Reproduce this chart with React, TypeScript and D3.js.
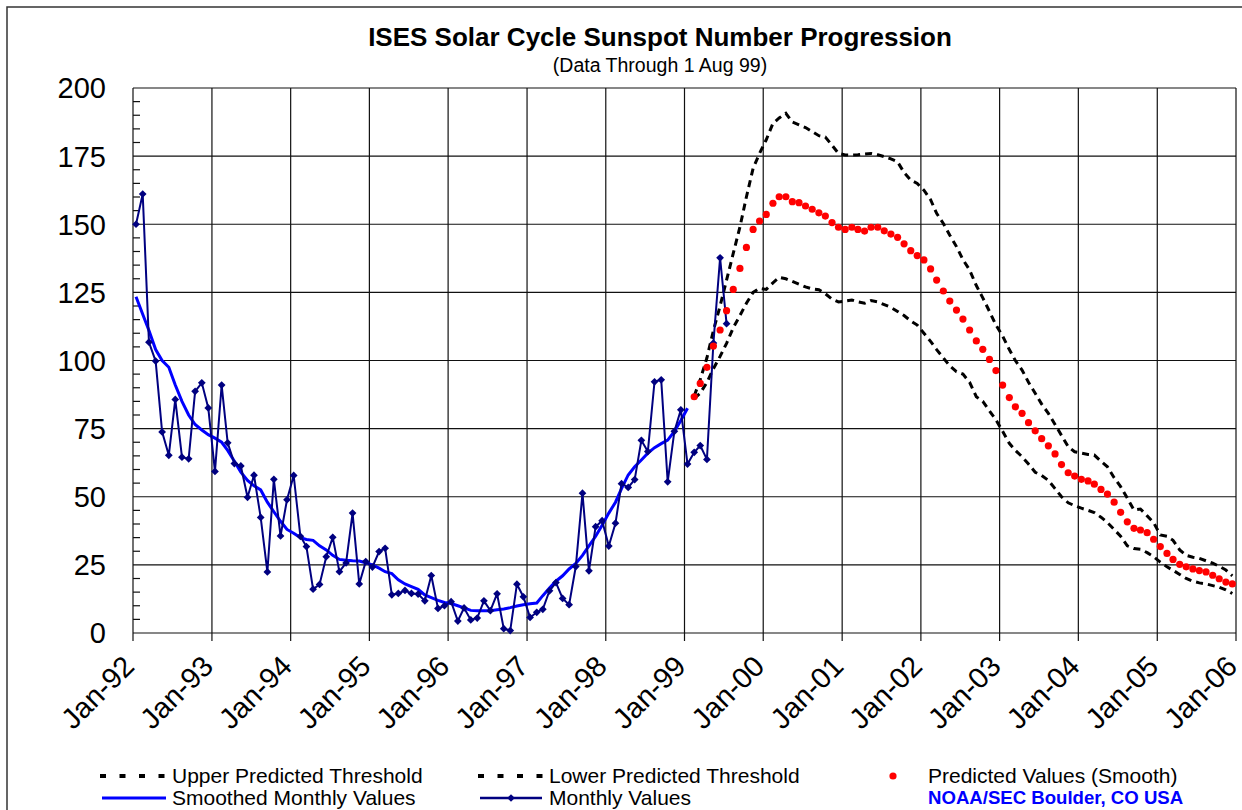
import React from "react";
import * as d3 from "d3";

// monthly sunspot numbers, Jan 1992 .. Jul 1999
const monthlyValues = [
  150.0, 161.1, 106.7, 99.8, 73.8, 65.2, 85.7, 64.5, 63.9, 88.7, 91.8, 82.6,
  59.3, 91.0, 69.8, 62.2, 61.3, 49.8, 57.9, 42.4, 22.4, 56.4, 35.6, 48.9,
  57.8, 35.5, 31.7, 16.1, 17.8, 28.0, 35.1, 22.5, 25.7, 44.0, 18.0, 26.2,
  24.2, 29.9, 31.1, 14.0, 14.5, 15.6, 14.5, 14.3, 11.8, 21.1, 9.0, 10.0,
  11.5, 4.4, 9.2, 4.8, 5.5, 11.8, 8.2, 14.4, 1.6, 0.9, 17.9, 13.3,
  5.7, 7.6, 8.7, 15.5, 18.5, 12.7, 10.4, 24.4, 51.3, 22.8, 39.0, 41.2,
  31.9, 40.3, 54.8, 53.4, 56.3, 70.7, 66.6, 92.2, 92.9, 55.5, 74.0, 81.9,
  62.0, 66.3, 68.8, 63.7, 106.4, 137.7, 113.5,
];

// smoothed monthly values, Jan 1992 .. Jan 1999
const smoothedValues = [
  123.4, 117, 111, 104, 100, 97.5, 91, 85, 80, 76.5, 74.5, 72.8,
  71.5, 70, 67, 63, 59, 56, 54, 52.5, 48, 44.5, 41, 38,
  36.6, 35, 34.3, 34, 32, 30.5, 28.5, 27, 26.7, 26.5, 26.4, 25.8,
  25, 23.8, 22.5, 21.8, 19.5, 18, 17, 16, 14, 13, 12, 11.2,
  10.8, 10, 9.2, 8.3, 8.2, 8.2, 8.2, 8.5, 8.8, 9.3, 9.9, 10.4,
  10.7, 11, 13.7, 16.5, 19, 21, 23.5, 25.5, 28.5, 32, 35.5, 39.5,
  44, 48, 53, 58, 61, 63.5, 66, 68, 69.5, 70.8, 74, 78,
  82.5,
];

// predictions, Feb 1999 .. Dec 2005
const predictedValues = [
  86.7, 91.6, 97.5, 105.3, 111.2, 118.3, 126.1, 133.8, 141.5, 148.1, 151.2,
  153.6, 157.7, 160.1, 160.1, 158.3, 157.9, 156.7, 155.5, 154.2, 153, 150.6, 148.9,
  148.1, 148.9, 148.1, 147.5, 148.9, 148.9, 147.6, 146.4, 145.2, 142.8, 140.3, 138.5,
  136.9, 133.6, 129.5, 125.5, 121.8, 118.5, 115.2, 111.2, 107.2, 104.1, 100.4, 96.3,
  91, 86.4, 83, 80.6, 77.2, 74.2, 71.3, 68.7, 65.7, 61.8, 58.8, 57.6,
  56.4, 55.8, 54.6, 52.7, 51, 48, 44.3, 40.8, 38.4, 37.8, 36.8, 34.4,
  31.7, 29.2, 27, 25.2, 24.3, 23.5, 22.9, 22.4, 21.2, 19.9, 18.7, 18,
];

const upperThreshold = [
  87, 93, 101, 111, 120, 129.5, 139.3, 149, 160, 170.5, 176,
  181, 187, 189, 190.7, 187.5, 186.5, 185.5, 184, 182.5, 182, 179, 176,
  175.4, 175.4, 175.5, 175.8, 176, 175.5, 174.8, 174, 172.9, 169, 166.2, 165,
  162.5, 159, 154, 150.3, 146, 141.8, 137, 133.2, 127.5, 123, 118, 113,
  109, 104, 100, 96.5, 92, 88, 84, 80.6, 76.5, 72.5, 68.4, 66.5,
  66, 65.5, 65.3, 63, 61, 57, 53.7, 49.5, 45.1, 45.5, 43, 40.5,
  36, 35.5, 34, 30.5, 28.5, 27.8, 27.4, 26.5, 25.6, 24.5, 23.1, 21,
];

const lowerThreshold = [
  86, 88, 92, 97, 101.5, 106.3, 112, 116.5, 121, 125, 126.5,
  126.1, 128.5, 130.5, 130, 129, 128, 127, 126.3, 126, 124.5, 122.5, 121.5,
  121.8, 122.2, 121.5, 121, 122, 121.5, 120.5, 119.5, 118, 116.5, 114.5, 113,
  110, 107, 104, 101, 98, 95.9, 95, 92, 86.7, 85, 81.5, 78.2,
  74, 69.6, 67, 64.7, 62, 59, 57.8, 56, 53, 50, 47.8, 46.7,
  45.8, 45, 44.2, 42.5, 40.5, 38, 35.5, 32, 31, 30.7, 29.5, 28,
  26, 24.3, 23, 21.5, 20, 19, 18.4, 18, 17.4, 16.8, 15.8, 14.5,
];

const yTicks = [0, 25, 50, 75, 100, 125, 150, 175, 200];
const yearLabels = [
  "Jan-92", "Jan-93", "Jan-94", "Jan-95", "Jan-96", "Jan-97", "Jan-98", "Jan-99",
  "Jan-00", "Jan-01", "Jan-02", "Jan-03", "Jan-04", "Jan-05", "Jan-06",
];

const W = 1242;
const H = 810;
const plot = { left: 133, right: 1236, top: 88, bottom: 633 };
const font = "Arial, 'Liberation Sans', sans-serif";

// values sit mid-month
const monthDate = (i: number) => new Date(1992, i, 15);

export default function App() {
  const x = d3
    .scaleTime()
    .domain([new Date(1992, 0, 1), new Date(2006, 0, 1)])
    .range([plot.left, plot.right]);
  const y = d3.scaleLinear().domain([0, 200]).range([plot.bottom, plot.top]);

  const years = yearLabels.map((_, i) => new Date(1992 + i, 0, 1));
  const minorTicks = d3.range(0, 201, 5).filter((v) => v % 25 !== 0);

  const line = (vals: number[], start: number) =>
    d3
      .line<number>()
      .x((_, i) => x(monthDate(start + i)))
      .y((d) => y(d))(vals) || "";

  const predStart = 85;
  const diamond = d3.symbol(d3.symbolSquare, 30)() || "";

  return (
    <svg
      width={W}
      height={H}
      style={{ position: "absolute", left: 0, top: 0, background: "#fff" }}
      fontFamily={font}
    >
      <rect x={7} y={7} width={1300} height={900} fill="#fff" stroke="#333" strokeWidth={1.5} />

      <text x={660} y={46} textAnchor="middle" fontSize={26} fontWeight="bold">
        ISES Solar Cycle Sunspot Number Progression
      </text>
      <text x={660} y={72} textAnchor="middle" fontSize={19.5}>
        (Data Through 1 Aug 99)
      </text>

      {/* grid */}
      <g stroke="#111" strokeWidth={1.2}>
        {yTicks.map((t) => (
          <line key={"h" + t} x1={plot.left} x2={plot.right} y1={y(t)} y2={y(t)} />
        ))}
        {years.map((d, i) => (
          <line key={"v" + i} x1={x(d)} x2={x(d)} y1={plot.top} y2={plot.bottom + 8} />
        ))}
        {minorTicks.map((t) => (
          <line key={"m" + t} x1={plot.left} x2={plot.left + 7} y1={y(t)} y2={y(t)} />
        ))}
      </g>

      {/* y labels */}
      {yTicks.map((t) => (
        <text key={"yl" + t} x={106} y={y(t)} dy="0.36em" textAnchor="end" fontSize={29}>
          {t}
        </text>
      ))}

      {/* x labels */}
      {years.map((d, i) => (
        <text
          key={"xl" + i}
          transform={`translate(${x(d) + 3},${668}) rotate(-45)`}
          textAnchor="end"
          fontSize={29}
        >
          {yearLabels[i]}
        </text>
      ))}

      {/* thresholds */}
      <path d={line(upperThreshold, predStart)} fill="none" stroke="#000" strokeWidth={3} strokeDasharray="7 5" />
      <path d={line(lowerThreshold, predStart)} fill="none" stroke="#000" strokeWidth={3} strokeDasharray="7 5" />

      {/* smoothed */}
      <path d={line(smoothedValues, 0)} fill="none" stroke="#0000ff" strokeWidth={3} />

      {/* monthly */}
      <path d={line(monthlyValues, 0)} fill="none" stroke="#000080" strokeWidth={2} />
      {monthlyValues.map((v, i) => (
        <path
          key={"mv" + i}
          d={diamond}
          fill="#000080"
          transform={`translate(${x(monthDate(i))},${y(v)}) rotate(45)`}
        />
      ))}

      {/* predicted */}
      {predictedValues.map((v, i) => (
        <circle key={"p" + i} cx={x(monthDate(predStart + i))} cy={y(v)} r={3.6} fill="#ff0000" />
      ))}

      {/* legend */}
      <g fontSize={21}>
        <line x1={100} x2={166} y1={776} y2={776} stroke="#000" strokeWidth={4} strokeDasharray="6 13.5" />
        <text x={172} y={783}>Upper Predicted Threshold</text>
        <line x1={478} x2={544} y1={776} y2={776} stroke="#000" strokeWidth={4} strokeDasharray="6 13.5" />
        <text x={549} y={783}>Lower Predicted Threshold</text>
        <circle cx={893} cy={776} r={3.6} fill="#ff0000" />
        <text x={928} y={783}>Predicted Values (Smooth)</text>

        <line x1={102} x2={166} y1={798} y2={798} stroke="#0000ff" strokeWidth={3} />
        <text x={172} y={805}>Smoothed Monthly Values</text>
        <line x1={480} x2={542} y1={798} y2={798} stroke="#000080" strokeWidth={2.5} />
        <path d={diamond} fill="#000080" transform="translate(511,798) rotate(45)" />
        <text x={549} y={805}>Monthly Values</text>
        <text x={928} y={804} fontSize={18.6} fontWeight="bold" fill="#0000ff">
          NOAA/SEC Boulder, CO USA
        </text>
      </g>
    </svg>
  );
}
